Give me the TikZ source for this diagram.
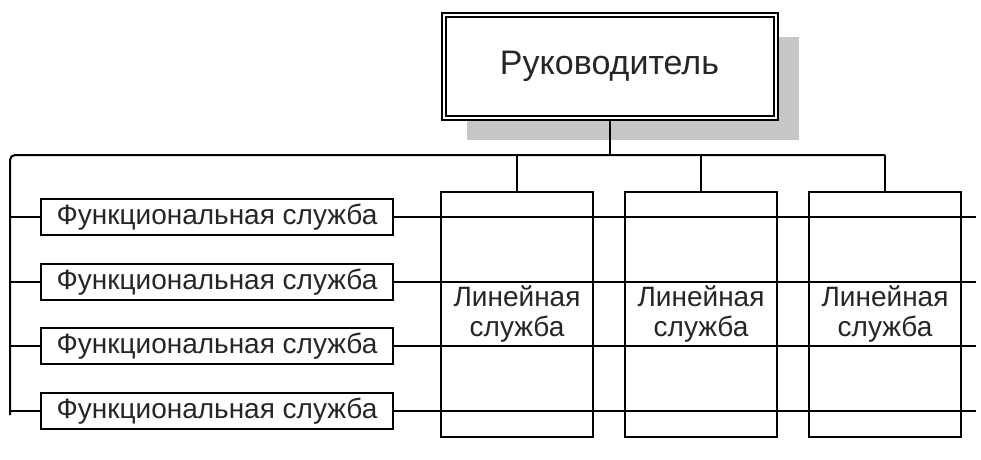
\documentclass[tikz,border=0pt]{standalone}
\usepackage{fontspec}
\setmainfont{Liberation Sans}
\usetikzlibrary{shadows}
\tikzset{
  every picture/.style={line width=2pt},
  bossbox/.style={draw, double, double distance=2pt, fill=white, minimum width=332pt, minimum height=103pt,
    font=\fontsize{34}{36}\selectfont, text=black!85,
    drop shadow={shadow xshift=23pt, shadow yshift=-22pt, fill=black!22, opacity=1}},
  funcbox/.style={draw, fill=white, minimum width=352pt, minimum height=36pt, inner sep=0pt,
    font=\fontsize{28}{30}\selectfont, text=black!85},
  linebox/.style={draw, fill=white, minimum width=152pt, minimum height=245pt, align=center, inner sep=0pt,
    font=\fontsize{28}{30}\selectfont, text=black!85}
}
\begin{document}
\begin{tikzpicture}[x=1pt,y=-1pt]
\useasboundingbox (0,0) rectangle (981,459);
% top
\node[bossbox] (boss) at (609.5,66) {Руководитель};
% linear services
\foreach \i/\x in {1/517,2/701,3/885}
  \node[linebox] (l\i) at (\x,314.5) {Линейная\\служба};
% functional services
\foreach \i/\y in {1/217,2/282,3/346,4/411}
  \node[funcbox] (f\i) at (217,\y) {Функциональная служба};
\coordinate (corner) at (10,155);
\coordinate (busend) at (10,415);
\coordinate (rend) at (976,0);
% connectors
\draw[rounded corners=5pt] (busend) -- (corner) -- (l3.north |- corner);
\draw (boss.south) -- (boss.south |- corner);
\foreach \i in {1,2,3}
  \draw (l\i.north) -- (l\i.north |- corner);
\foreach \i in {1,...,4}{
  \draw (f\i.west) -- (f\i.west -| corner);
  \draw (f\i.east) -- (f\i.east -| rend);
}
\end{tikzpicture}
\end{document}
